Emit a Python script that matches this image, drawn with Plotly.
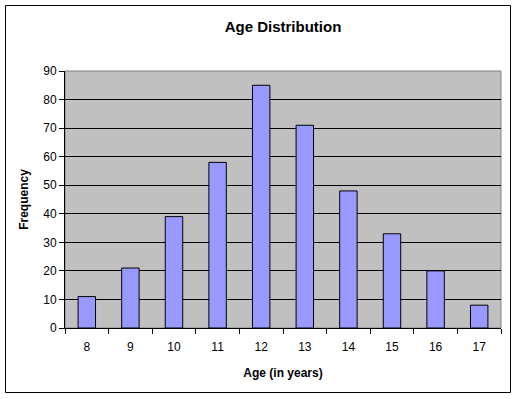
import plotly.graph_objects as go

ages = ["8", "9", "10", "11", "12", "13", "14", "15", "16", "17"]
frequency = [11, 21, 39, 58, 85, 71, 48, 33, 20, 8]
y_ticks = [0, 10, 20, 30, 40, 50, 60, 70, 80, 90]

W, H = 517, 399
L, R, T, B = 65, 16, 71, 71
pw, ph = W - L - R, H - T - B

def px2paper_x(x):
    return (x - L) / pw

def px2paper_y(y):
    return (H - B - y) / ph

fig = go.Figure(go.Bar(
    x=ages, y=frequency,
    marker=dict(color="#9999FF", line=dict(color="black", width=1)),
))

fig.update_layout(
    width=W, height=H,
    margin=dict(l=L, r=R, t=T, b=B, autoexpand=False),
    paper_bgcolor="white",
    plot_bgcolor="#C0C0C0",
    bargap=0.6,
    showlegend=False,
    font=dict(family="Liberation Sans, Arial, sans-serif", color="black", size=12),
    title=dict(text="<b>Age Distribution</b>", x=0.5, xref="paper", xanchor="center",
               y=1 - 27 / H, yref="container", yanchor="middle", font=dict(size=15)),
    xaxis=dict(
        type="category", tickson="boundaries", ticks="outside", ticklen=5,
        tickcolor="black", showline=True, linecolor="black", linewidth=1,
        showgrid=False, automargin=False, ticklabelstandoff=8,
        title=dict(text="<b>Age (in years)</b>", font=dict(size=12), standoff=15),
        tickfont=dict(size=12),
    ),
    yaxis=dict(
        range=[0, 90], tickvals=y_ticks, ticks="outside", ticklen=5,
        tickcolor="black", showline=True, linecolor="black", linewidth=1,
        showgrid=True, gridcolor="black", gridwidth=1, zeroline=False,
        automargin=False,
        title=dict(text="<b>Frequency</b>", font=dict(size=12), standoff=12),
        tickfont=dict(size=12),
    ),
    shapes=[
        dict(type="rect", xref="paper", yref="paper", x0=0, x1=1, y0=0, y1=1,
             line=dict(color="#808080", width=1), layer="below"),
        dict(type="rect", xref="paper", yref="paper",
             x0=px2paper_x(5.5), x1=px2paper_x(510.5),
             y0=px2paper_y(392.5), y1=px2paper_y(5.5),
             line=dict(color="black", width=1)),
    ],
)

fig.write_html("out.html", config={"displayModeBar": False},
               post_script="document.body.style.margin='0';document.body.style.overflow='hidden';")
